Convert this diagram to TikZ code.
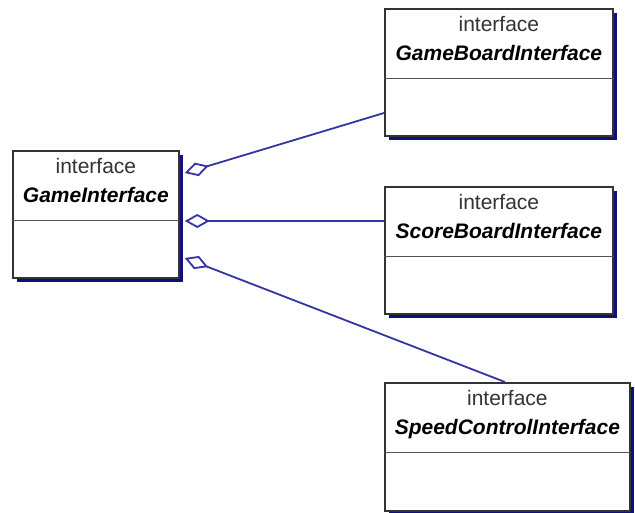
\documentclass[tikz,border=0pt]{standalone}
\usepackage{fontspec}
\setmainfont{Liberation Sans}
\usetikzlibrary{arrows.meta,calc,shadows}

\definecolor{linkblue}{HTML}{3434A4}
\definecolor{shadenavy}{HTML}{10107A}
\definecolor{frame}{HTML}{333333}
\definecolor{stereogray}{HTML}{333333}

\tikzset{
  umlbox/.style={draw=frame, line width=1.8pt, fill=white, anchor=north west,
    inner sep=0pt, drop shadow={shadow xshift=4.5pt, shadow yshift=-4.5pt,
    fill=shadenavy, opacity=1}},
  stereo/.style={anchor=base, inner sep=0pt, text=stereogray,
    font=\fontsize{21}{24}\selectfont},
  classname/.style={anchor=base, inner sep=0pt,
    font=\fontsize{21}{24}\selectfont\bfseries\itshape},
  divider/.style={draw=frame!85, line width=1.8pt},
  aggregation/.style={draw=linkblue, line width=1.8pt,
    {Diamond[open, length=25pt, width=14pt, line width=1.8pt]}-}
}

\begin{document}
\begin{tikzpicture}[x=1pt, y=-1pt]
  \useasboundingbox (0,0) rectangle (635,512);

  % class boxes
  \node[umlbox, minimum width=166pt, minimum height=127pt] (game)  at (12,150) {};
  \node[umlbox, minimum width=228pt, minimum height=127pt] (board) at (384,8) {};
  \node[umlbox, minimum width=228pt, minimum height=127pt] (score) at (384,186) {};
  \node[umlbox, minimum width=245pt, minimum height=128pt] (speed) at (384,382) {};

  % compartments and titles
  \foreach \b/\name in {game/GameInterface, board/GameBoardInterface,
                        score/ScoreBoardInterface, speed/SpeedControlInterface}{
    \node[stereo]    at ($(\b.north)+(0,23.5)$) {interface};
    \node[classname] at ($(\b.north)+(0,52)$) {\name};
    \draw[divider] ($(\b.north west)+(0,70.5)$) -- ($(\b.north east)+(0,70.5)$);
  }

  % aggregation ends on the GameInterface side
  \coordinate (agBoard) at ($(game.north east)+(5,23)$);
  \coordinate (agScore) at ($(game.north east)+(5,71)$);
  \coordinate (agSpeed) at ($(game.north east)+(5,108)$);

  % aggregation links
  \draw[aggregation] (agBoard) -- ($(board.north west)+(0,105)$);
  \draw[aggregation] (agScore) -- (agScore -| score.west);
  \draw[aggregation] (agSpeed) -- ($(speed.north west)+(121,0)$);
\end{tikzpicture}
\end{document}
